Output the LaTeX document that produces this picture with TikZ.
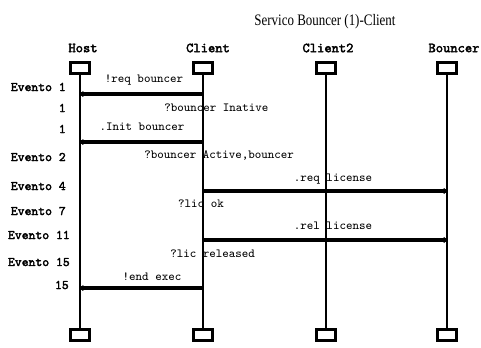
\documentclass[tikz,border=0pt]{standalone}
\usepackage{fontspec}
\setmainfont{Liberation Serif}
\setmonofont{Latin Modern Mono}[AutoFakeBold=2.5]
\usetikzlibrary{arrows.meta}
\begin{document}
\begin{tikzpicture}[x=0.75pt,y=-0.75pt,
  objbox/.style={draw,line width=1.8pt,minimum width=14.5pt,minimum height=8pt,inner sep=0pt,fill=white},
  life/.style={line width=2pt},
  thinlife/.style={line width=0.9pt},
  msg/.style={line width=2.8pt,-{Straight Barb[length=2pt,width=4pt,line width=0.6pt]}},
  hdr/.style={font=\ttfamily\bfseries\fontsize{10.4}{10.4}\selectfont,inner sep=0pt},
  lbl/.style={font=\ttfamily\fontsize{9.3}{9.3}\selectfont,inner sep=0pt},
  evt/.style={font=\ttfamily\bfseries\fontsize{9.8}{9.8}\selectfont,inner sep=0pt,anchor=east},
]
\useasboundingbox (0,0) rectangle (481,347);
% title
\node[font=\fontsize{12}{12}\selectfont,inner sep=0pt] (title) at (325,22) {\scalebox{0.81}[1]{Servico Bouncer (1)-Client}};
% headers
\node[hdr] (hHost) at (83,48) {Host};
\node[hdr] (hClient) at (208,48) {Client};
\node[hdr] (hClient2) at (328,48) {Client2};
\node[hdr] (hBouncer) at (454,48) {Bouncer};
% boxes
\node[objbox] (hostT) at (80,68) {};
\node[objbox] (clientT) at (203,68) {};
\node[objbox] (client2T) at (326,68) {};
\node[objbox] (bouncerT) at (447,68) {};
\node[objbox] (hostB) at (80,335) {};
\node[objbox] (clientB) at (203,335) {};
\node[objbox] (client2B) at (326,335) {};
\node[objbox] (bouncerB) at (447,335) {};
% lifelines
\draw[life] (hostT) -- (hostB);
\draw[life] (clientT) -- (clientB);
\draw[thinlife] (client2T) -- (client2B);
\draw[life] (bouncerT) -- (bouncerB);
% message rows
\coordinate (m1) at (0,94);
\coordinate (m2) at (0,142);
\coordinate (m3) at (0,191);
\coordinate (m4) at (0,240);
\coordinate (m5) at (0,288);
\draw[msg] (clientT |- m1) -- (hostT |- m1);
\draw[msg] (clientT |- m2) -- (hostT |- m2);
\draw[msg] (clientT |- m3) -- (bouncerT |- m3);
\draw[msg] (clientT |- m4) -- (bouncerT |- m4);
\draw[msg] (clientT |- m5) -- (hostT |- m5);
% message labels
\node[lbl] (l1) at (144,80) {!req bouncer};
\node[lbl,anchor=west] (l2) at (164,108) {?bouncer Inative};
\node[lbl] (l3) at (142,127) {.Init bouncer};
\node[lbl,anchor=west] (l4) at (144,155) {?bouncer Active,bouncer};
\node[lbl] (l5) at (333,179) {.req license};
\node[lbl] (l6) at (201,204) {?lic ok};
\node[lbl] (l7) at (333,226) {.rel license};
\node[lbl,anchor=west] (l8) at (170,254) {?lic released};
\node[lbl] (l9) at (152,277) {!end exec};
% event labels
\node[evt] (e1) at (66,87) {Evento 1};
\node[evt] (e1b) at (66,108) {1};
\node[evt] (e1c) at (66,129) {1};
\node[evt] (e2) at (66,157) {Evento 2};
\node[evt] (e4) at (66,186) {Evento 4};
\node[evt] (e7) at (66,211) {Evento 7};
\node[evt] (e11) at (70,235) {Evento 11};
\node[evt] (e15) at (70,262) {Evento 15};
\node[evt] (e15b) at (69,285) {15};
\end{tikzpicture}
\end{document}
